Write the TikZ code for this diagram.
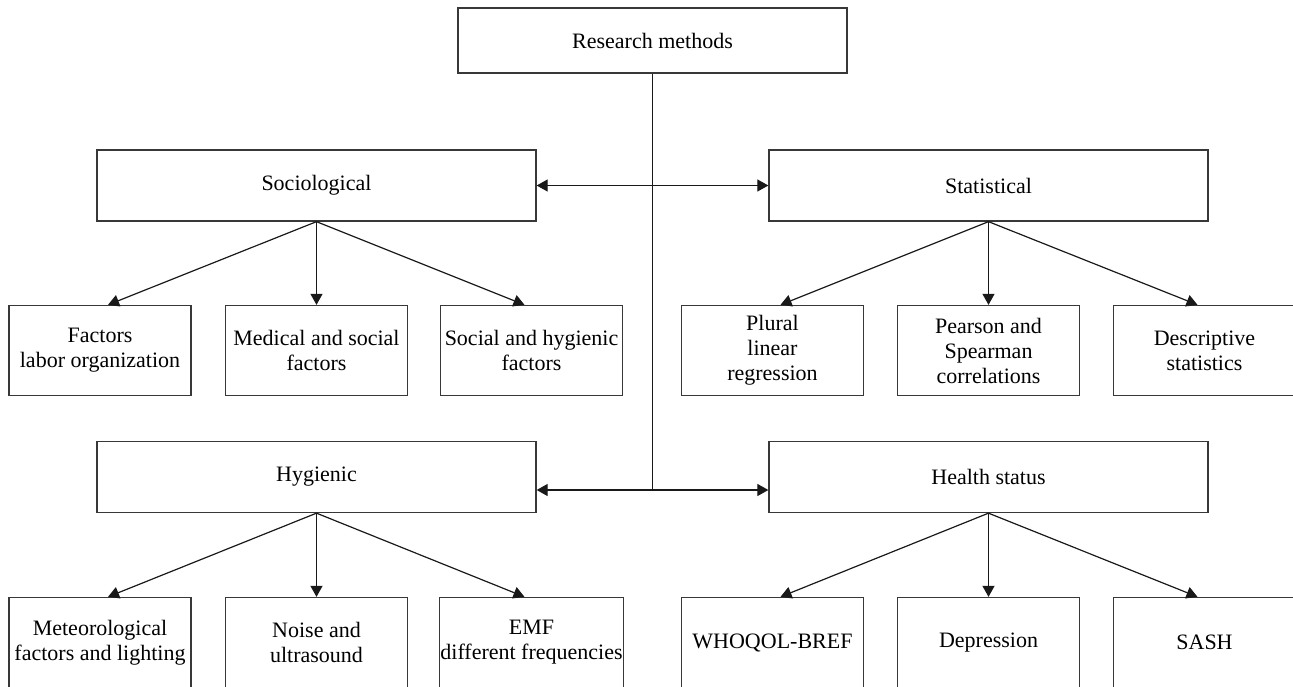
\documentclass[tikz,border=0pt]{standalone}
\usepackage{fontspec}
\setmainfont{Liberation Serif}
\usetikzlibrary{arrows.meta}
\begin{document}
\begin{tikzpicture}
[x=1pt,y=-1pt,
  boxdecorate/.style={shape=rectangle,draw=black!78,line width=1.3pt,
    align=center,inner sep=1pt,font=\fontsize{22}{25}\selectfont},
  bigbox/.style={boxdecorate,minimum width=439pt,minimum height=71pt},
  smallbox/.style={boxdecorate,minimum width=182pt,minimum height=90pt},
  linedecorate/.style={line width=1.2pt,black!90},
  arrowdecorate/.style={linedecorate,-{Triangle[length=11pt,width=12pt]}},
  twowaydecorate/.style={linedecorate,{Triangle[length=11pt,width=12pt]}-{Triangle[length=11pt,width=12pt]}}]
%%
\clip (0,0) rectangle (1293,686);
%% root
\node (research) at (652.5,40.5) [boxdecorate,minimum width=389pt,minimum height=65pt] {Research methods};
%% groups of methods
\foreach \nodename/\x/\y/\nodetext in {socio/316.5/185.5/Sociological,
  stat/988.5/185.5/Statistical, hyg/316.5/477/Hygienic,
  health/988.5/477/Health status} {
  \node (\nodename) at (\x,\y) [bigbox] {\nodetext};
}
%% single methods
\foreach \nodename/\x/\y/\nodetext in {
  so1/100/350.5/{Factors\\labor organization},
  so2/316.5/350.5/{Medical and social\\factors},
  so3/531.5/350.5/{Social and hygienic\\factors},
  st1/772.5/350.5/{Plural\\linear\\regression},
  st2/988.5/350.5/{Pearson and\\Spearman\\correlations},
  st3/1204.5/350.5/{Descriptive\\statistics},
  hy1/100/642.5/{Meteorological\\factors and lighting},
  hy2/316.5/642.5/{Noise and\\ultrasound},
  hy3/531.5/642.5/{EMF\\different frequencies},
  he1/772.5/642.5/WHOQOL-BREF,
  he2/988.5/642.5/Depression,
  he3/1204.5/642.5/SASH} {
  \node (\nodename) at (\x,\y) [smallbox] {\nodetext};
}
%% trunk and cross links
\coordinate (joint) at (652.5,490);
\draw[linedecorate] (research.south) -- (joint);
\draw[twowaydecorate] (socio.east) -- (stat.west);
\draw[twowaydecorate] (hyg.east |- joint) -- (health.west |- joint);
%% branches
\path
\foreach \startnode/\endnode/\dx in {socio/so1/8, socio/so2/0, socio/so3/-7,
  stat/st1/8, stat/st2/0, stat/st3/-7, hyg/hy1/8, hyg/hy2/0, hyg/hy3/-7,
  health/he1/8, health/he2/0, health/he3/-7} {
  (\startnode.south) edge[arrowdecorate] ([xshift=\dx pt]\endnode.north)
};
\end{tikzpicture}
\end{document}
